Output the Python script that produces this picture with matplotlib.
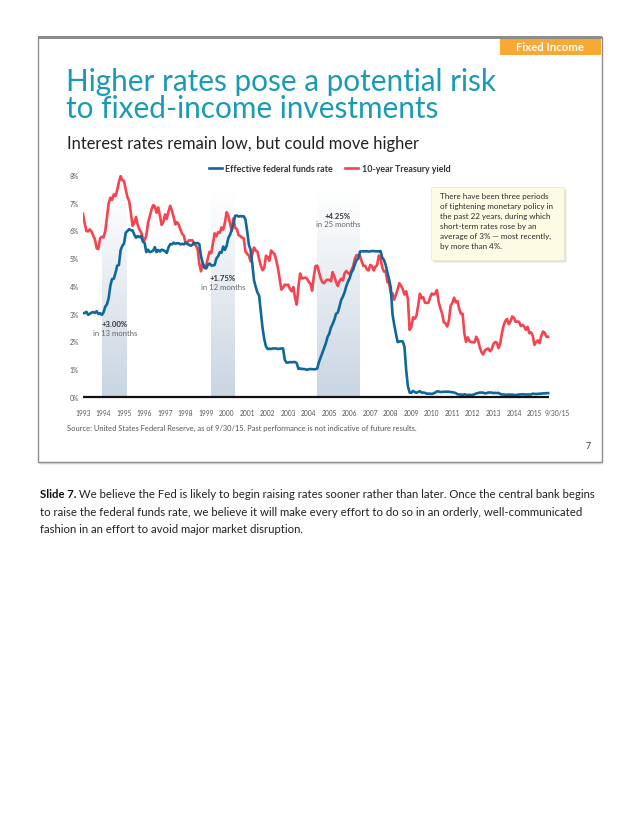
import numpy as np
import matplotlib
matplotlib.use("Agg")
import matplotlib.pyplot as plt
from matplotlib.patches import Rectangle
from matplotlib.colors import LinearSegmentedColormap
from matplotlib import font_manager

W, H = 640, 828

# monthly averages, Jan 1993 - Sep 2015 (%)
fed_funds = [
    3.02, 3.03, 3.07, 2.96, 3.00, 3.04, 3.06, 3.03, 3.09, 2.99, 3.02, 2.96,  # 1993
    3.05, 3.25, 3.34, 3.56, 4.01, 4.25, 4.26, 4.47, 4.73, 4.76, 5.29, 5.45,  # 1994
    5.53, 5.92, 5.98, 6.05, 6.01, 6.00, 5.85, 5.74, 5.80, 5.76, 5.80, 5.60,  # 1995
    5.56, 5.22, 5.31, 5.22, 5.24, 5.27, 5.40, 5.22, 5.30, 5.24, 5.31, 5.29,  # 1996
    5.25, 5.19, 5.39, 5.51, 5.50, 5.56, 5.52, 5.54, 5.54, 5.50, 5.52, 5.50,  # 1997
    5.56, 5.51, 5.49, 5.45, 5.49, 5.56, 5.54, 5.55, 5.51, 5.07, 4.83, 4.68,  # 1998
    4.63, 4.76, 4.81, 4.74, 4.74, 4.76, 4.99, 5.07, 5.22, 5.20, 5.42, 5.30,  # 1999
    5.45, 5.73, 5.85, 6.02, 6.27, 6.53, 6.54, 6.50, 6.52, 6.51, 6.51, 6.40,  # 2000
    5.98, 5.49, 5.31, 4.80, 4.21, 3.97, 3.77, 3.65, 3.07, 2.49, 2.09, 1.82,  # 2001
    1.73, 1.74, 1.73, 1.75, 1.75, 1.75, 1.73, 1.74, 1.75, 1.75, 1.34, 1.24,  # 2002
    1.24, 1.26, 1.25, 1.26, 1.26, 1.22, 1.01, 1.03, 1.01, 1.01, 1.00, 0.98,  # 2003
    1.00, 1.01, 1.00, 1.00, 1.00, 1.03, 1.26, 1.43, 1.61, 1.76, 1.93, 2.16,  # 2004
    2.28, 2.50, 2.63, 2.79, 3.00, 3.04, 3.26, 3.50, 3.62, 3.78, 4.00, 4.16,  # 2005
    4.29, 4.49, 4.59, 4.79, 4.94, 4.99, 5.24, 5.25, 5.25, 5.25, 5.25, 5.24,  # 2006
    5.25, 5.26, 5.26, 5.25, 5.25, 5.25, 5.26, 5.02, 4.94, 4.76, 4.49, 4.24,  # 2007
    3.94, 2.98, 2.61, 2.28, 1.98, 2.00, 2.01, 2.00, 1.81, 0.97, 0.39, 0.16,  # 2008
    0.15, 0.22, 0.18, 0.15, 0.18, 0.21, 0.16, 0.16, 0.15, 0.12, 0.12, 0.12,  # 2009
    0.11, 0.13, 0.16, 0.20, 0.20, 0.18, 0.18, 0.19, 0.19, 0.19, 0.19, 0.18,  # 2010
    0.17, 0.16, 0.14, 0.10, 0.09, 0.09, 0.07, 0.10, 0.08, 0.07, 0.08, 0.07,  # 2011
    0.08, 0.10, 0.13, 0.14, 0.16, 0.16, 0.16, 0.13, 0.14, 0.16, 0.16, 0.16,  # 2012
    0.14, 0.15, 0.14, 0.15, 0.11, 0.09, 0.09, 0.08, 0.08, 0.09, 0.08, 0.09,  # 2013
    0.07, 0.07, 0.08, 0.09, 0.09, 0.10, 0.09, 0.09, 0.09, 0.09, 0.09, 0.12,  # 2014
    0.11, 0.11, 0.11, 0.12, 0.12, 0.13, 0.13, 0.14, 0.14,                    # 2015
]

treasury_10y = [
    6.60, 6.26, 5.98, 5.97, 6.04, 5.96, 5.81, 5.68, 5.36, 5.33, 5.72, 5.77,  # 1993
    5.75, 5.97, 6.48, 6.97, 7.18, 7.10, 7.30, 7.24, 7.46, 7.74, 7.96, 7.81,  # 1994
    7.78, 7.47, 7.20, 7.06, 6.63, 6.17, 6.28, 6.49, 6.20, 6.04, 5.93, 5.71,  # 1995
    5.65, 5.81, 6.27, 6.51, 6.74, 6.91, 6.87, 6.64, 6.83, 6.53, 6.20, 6.30,  # 1996
    6.58, 6.42, 6.69, 6.89, 6.71, 6.49, 6.22, 6.30, 6.21, 6.03, 5.88, 5.81,  # 1997
    5.54, 5.57, 5.65, 5.64, 5.65, 5.50, 5.46, 5.34, 4.81, 4.53, 4.83, 4.65,  # 1998
    4.72, 5.00, 5.23, 5.18, 5.54, 5.90, 5.79, 5.94, 5.92, 6.11, 6.03, 6.28,  # 1999
    6.66, 6.52, 6.26, 5.99, 6.44, 6.10, 6.05, 5.83, 5.80, 5.74, 5.72, 5.24,  # 2000
    5.16, 5.10, 4.89, 5.14, 5.39, 5.28, 5.24, 4.97, 4.73, 4.57, 4.65, 5.09,  # 2001
    5.04, 4.91, 5.28, 5.21, 5.16, 4.93, 4.65, 4.26, 3.87, 3.94, 4.05, 4.03,  # 2002
    4.05, 3.90, 3.81, 3.96, 3.57, 3.33, 3.98, 4.45, 4.27, 4.29, 4.30, 4.27,  # 2003
    4.15, 4.08, 3.83, 4.35, 4.72, 4.73, 4.50, 4.28, 4.13, 4.10, 4.19, 4.23,  # 2004
    4.22, 4.17, 4.50, 4.34, 4.14, 4.00, 4.18, 4.26, 4.20, 4.46, 4.54, 4.47,  # 2005
    4.42, 4.57, 4.72, 4.99, 5.11, 5.11, 5.09, 4.88, 4.72, 4.73, 4.60, 4.56,  # 2006
    4.76, 4.72, 4.56, 4.69, 4.75, 5.10, 5.00, 4.67, 4.52, 4.53, 4.15, 4.10,  # 2007
    3.74, 3.74, 3.51, 3.68, 3.88, 4.10, 4.01, 3.89, 3.69, 3.81, 3.53, 2.42,  # 2008
    2.52, 2.87, 2.82, 2.93, 3.29, 3.72, 3.56, 3.59, 3.40, 3.39, 3.40, 3.59,  # 2009
    3.73, 3.69, 3.73, 3.85, 3.42, 3.20, 3.01, 2.70, 2.65, 2.54, 2.76, 3.29,  # 2010
    3.39, 3.58, 3.41, 3.46, 3.17, 3.00, 3.00, 2.30, 1.98, 2.15, 2.01, 1.98,  # 2011
    1.97, 1.97, 2.17, 2.05, 1.80, 1.62, 1.53, 1.68, 1.72, 1.75, 1.65, 1.72,  # 2012
    1.91, 1.98, 1.96, 1.76, 1.93, 2.30, 2.58, 2.74, 2.81, 2.62, 2.72, 2.90,  # 2013
    2.86, 2.71, 2.72, 2.71, 2.56, 2.60, 2.54, 2.42, 2.53, 2.30, 2.33, 2.21,  # 2014
    1.88, 1.98, 2.04, 1.94, 2.20, 2.36, 2.32, 2.17, 2.17,                    # 2015
]

# tightening periods
hike_start = [1993.95, 1999.25, 2004.40]
hike_end = [1995.15, 2000.40, 2006.45]
hike_label = ["+3.00%", "+1.75%", "+4.25%"]
hike_months = ["in 13 months", "in 12 months", "in 25 months"]
hike_label_y = [2.65, 4.3, 6.55]

year_ticks = list(range(1993, 2016)) + [2016.1]
year_labels = [str(y) for y in range(1993, 2016)] + ["9/30/15"]
y_ticks = [0, 1, 2, 3, 4, 5, 6, 7, 8]

BLUE = "#0f679b"
RED = "#f7434f"
TEAL = "#1b9ab6"
FONT = "Lato"
installed = {f.name for f in font_manager.fontManager.ttflist}
BODY = "Liberation Sans Narrow" if "Liberation Sans Narrow" in installed else FONT


def fx(x):
    return x / W


def fy(y):
    return 1 - y / H


fig = plt.figure(figsize=(W / 100, H / 100), dpi=100)
fig.patch.set_facecolor("white")

# slide frame with a soft shadow
for i, a in enumerate([0.05, 0.08, 0.12]):
    fig.patches.append(Rectangle((fx(38 + 1), fy(463 + 3 - i)), fx(564), (463 - 38) / H,
                                 transform=fig.transFigure, facecolor="#000000",
                                 alpha=a, edgecolor="none", zorder=-5))
fig.patches.append(Rectangle((fx(38), fy(463)), fx(564), (463 - 38) / H,
                             transform=fig.transFigure, facecolor="white",
                             edgecolor="#8c8c8c", lw=1.0, zorder=-4))
fig.patches.append(Rectangle((fx(38), fy(39.5)), fx(564), 2.5 / H,
                             transform=fig.transFigure, facecolor="#8c8c8c",
                             edgecolor="none", zorder=-3))

# orange tag
fig.patches.append(Rectangle((fx(500), fy(56)), fx(101), 16 / H,
                             transform=fig.transFigure, facecolor="#f7a934",
                             edgecolor="none", zorder=-2))
fig.text(fx(550), fy(47.5), "Fixed Income", color="white", fontsize=8.2,
         fontweight="bold", family=FONT, ha="center", va="center", zorder=3)

fig.text(fx(66), fy(82), "Higher rates pose a potential risk", color=TEAL,
         fontsize=21.4, family=FONT, ha="left", va="center")
fig.text(fx(66), fy(109), "to fixed-income investments", color=TEAL,
         fontsize=21.4, family=FONT, ha="left", va="center")
fig.text(fx(67), fy(144), "Interest rates remain low, but could move higher",
         color="#222222", fontsize=11.9, family=FONT, ha="left", va="center")

# chart
x0_px, x1_px, y0_px, y1_px = 83, 557, 398, 176
ax = fig.add_axes([fx(x0_px), fy(y0_px), (x1_px - x0_px) / W, (y0_px - y1_px) / H])
ax.set_facecolor("none")
ax.set_zorder(1)

months = 1993 + np.arange(len(fed_funds)) / 12

cmap = LinearSegmentedColormap.from_list("band", ["#ffffff", "#c9d5e2"])
grad = np.linspace(1, 0, 100).reshape(-1, 1)
for s, e in zip(hike_start, hike_end):
    ax.imshow(grad, extent=[s, e, 0, 7.4], origin="lower", cmap=cmap,
              aspect="auto", zorder=0, vmin=0, vmax=1)

ax.plot(months, treasury_10y, color=RED, lw=1.9, zorder=3, solid_joinstyle="round")
ax.plot(months, fed_funds, color=BLUE, lw=1.9, zorder=4, solid_joinstyle="round")
ax.plot([1993, months[-1] + 0.04], [0, 0], color="#111111", lw=1.6, zorder=5,
        solid_capstyle="butt", clip_on=False)

for s, e, lab, mon, ly in zip(hike_start, hike_end, hike_label, hike_months, hike_label_y):
    ax.text((s + e) / 2, ly, lab, fontsize=5.6, fontweight="bold", color="#333333",
            family=FONT, ha="center", va="center", zorder=6)
    ax.text((s + e) / 2, ly - 0.31, mon, fontsize=5.6, color="#666666",
            family=FONT, ha="center", va="center", zorder=6)

ax.set_xlim(1993, 2016)
ax.set_ylim(0, 8)
ax.set_yticks(y_ticks)
ax.set_yticklabels([f"{v}%" for v in y_ticks])
ax.set_xticks(year_ticks)
ax.set_xticklabels(year_labels)
ax.tick_params(axis="both", length=0, labelsize=4.8, labelcolor="#555555")
ax.tick_params(axis="x", pad=9)
ax.tick_params(axis="y", pad=3)
for lab in ax.get_xticklabels() + ax.get_yticklabels():
    lab.set_family(FONT)
    lab.set_clip_on(False)
for sp in ax.spines.values():
    sp.set_visible(False)

# legend
fig.lines.append(plt.Line2D([fx(209), fx(222)], [fy(169), fy(169)], color=BLUE, lw=1.9,
                            transform=fig.transFigure))
fig.text(fx(225), fy(169), "Effective federal funds rate", fontsize=6.4,
         fontweight="bold", color="#333333", family=FONT, ha="left", va="center")
fig.lines.append(plt.Line2D([fx(345), fx(358)], [fy(169), fy(169)], color=RED, lw=1.9,
                            transform=fig.transFigure))
fig.text(fx(362), fy(169), "10-year Treasury yield", fontsize=6.4,
         fontweight="bold", color="#333333", family=FONT, ha="left", va="center")

# callout box
for i, a in enumerate([0.05, 0.07, 0.09]):
    fig.patches.append(Rectangle((fx(431 + 3 - i), fy(261 + 3 - i)), 133 / W, 73 / H,
                                 transform=fig.transFigure, facecolor="#000000",
                                 alpha=a, edgecolor="none", zorder=6))
fig.patches.append(Rectangle((fx(431), fy(261)), 133 / W, 73 / H,
                             transform=fig.transFigure, facecolor="#fdfbe3",
                             edgecolor="#ece9c8", lw=0.5, zorder=7))
callout = ("There have been three periods\nof tightening monetary policy in\n"
           "the past 22 years, during which\nshort-term rates rose by an\n"
           "average of 3% \u2014 most recently,\nby more than 4%.")
fig.text(fx(440), fy(193), callout, fontsize=5.8, color="#2a2a2a", family=FONT,
         ha="left", va="top", linespacing=1.5, zorder=8)

fig.text(fx(67), fy(428), "Source: United States Federal Reserve, as of 9/30/15. "
         "Past performance is not indicative of future results.",
         fontsize=5.4, color="#555555", family=FONT, ha="left", va="center")
fig.text(fx(588), fy(447), "7", fontsize=6.5, color="#333333", family=FONT,
         ha="center", va="center")

# notes below the slide, sized so the first line spans the slide width
body = [
    ("Slide 7.", " We believe the Fed is likely to begin raising rates sooner rather than later. "
     "Once the central bank begins"),
    ("", "to raise the federal funds rate, we believe it will make every effort to do so in an "
     "orderly, well-communicated"),
    ("", "fashion in an effort to avoid major market disruption."),
]
renderer = fig.canvas.get_renderer()
probe_b = fig.text(0, 0, body[0][0], fontsize=10, fontweight="bold", family=BODY)
probe_r = fig.text(0, 0, body[0][1], fontsize=10, family=BODY)
full = probe_b.get_window_extent(renderer).width + probe_r.get_window_extent(renderer).width
probe_b.remove()
probe_r.remove()
body_size = min(10.5, 10 * 556 / full)

for i, (bold, rest) in enumerate(body):
    y = fy(494.5 + i * 17.6)
    x = fx(40)
    if bold:
        t = fig.text(x, y, bold, fontsize=body_size, fontweight="bold", color="#111111",
                     family=BODY, ha="left", va="center")
        x = t.get_window_extent(renderer).x1 / W
    fig.text(x, y, rest, fontsize=body_size, color="#222222", family=BODY,
             ha="left", va="center")

fig.savefig("out.png", dpi=100, facecolor="white")
